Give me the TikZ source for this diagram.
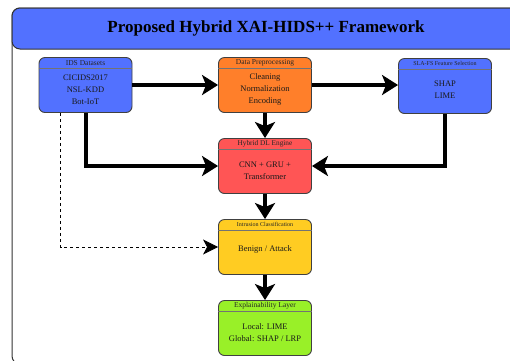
\documentclass[tikz,border=0pt]{standalone}
\usepackage{fontspec}
\setmainfont{Liberation Serif}
\usetikzlibrary{arrows.meta,calc}
\definecolor{cblue}{HTML}{5271FF}
\definecolor{corange}{HTML}{FF7F2A}
\definecolor{cred}{HTML}{FF5555}
\definecolor{cyellow}{HTML}{FFCC22}
\definecolor{cgreen}{HTML}{99F028}
\tikzset{
  box/.style={draw=black!75, line width=0.9pt, rounded corners=6pt, minimum width=93pt, minimum height=55pt, inner sep=0pt},
  hdr/.style={font=\fontsize{7.5}{8}\selectfont, inner sep=0pt, text=black!85},
  hdrsmall/.style={hdr, font=\fontsize{6}{7}\selectfont},
  body/.style={font=\fontsize{8.5}{12}\selectfont, align=center, inner sep=0pt, text=black!90},
  hline/.style={draw=black!55, line width=0.5pt},
  flow/.style={line width=4pt, -{Stealth[length=16pt,width=20pt,inset=4pt]}},
  dflow/.style={dashed, line width=0.8pt, -{Stealth[length=15pt,width=15pt,inset=4pt]}},
}
\begin{document}
\begin{tikzpicture}[x=1pt,y=-1pt]
\useasboundingbox (0,0) rectangle (510,360);
\clip (0,0) rectangle (510,360);
% outer frame and title bar
\draw[black!80, line width=1pt, rounded corners=8pt] (12,8) rectangle (540,364);
\draw[fill=cblue, draw=black!80, line width=1pt, rounded corners=8pt] (12,8) rectangle (540,49);
\node[font=\fontsize{17}{20}\selectfont\bfseries, text=black] (title) at (266,28) {Proposed Hybrid XAI-HIDS++ Framework};
% boxes
\node[box, fill=cblue]   (ids) at (85.5,85) {};
\node[box, fill=corange] (pre) at (265,85) {};
\node[box, fill=cblue]   (sla) at (445,86) {};
\node[box, fill=cred]    (dl)  at (265,166) {};
\node[box, fill=cyellow] (cls) at (265,247) {};
\node[box, fill=cgreen]  (xai) at (265,328) {};
\foreach \n in {ids,pre,sla,dl,cls,xai}
  \draw[hline] ([yshift=-11pt]\n.north west) -- ([yshift=-11pt]\n.north east);
% headers
\node[hdr] (idsh) at ([yshift=-5.8pt]ids.north) {IDS Datasets};
\node[hdr] (preh) at ([yshift=-5.8pt]pre.north) {Data Preprocessing};
\node[hdrsmall] (slah) at ([yshift=-5.8pt]sla.north) {SLA-FS Feature Selection};
\node[hdr, font=\fontsize{7.3}{8}\selectfont] (dlh) at ([yshift=-5.8pt]dl.north) {Hybrid DL Engine};
\node[hdrsmall] (clsh) at ([yshift=-5.8pt]cls.north) {Intrusion Classification};
\node[hdr] (xaih) at ([yshift=-5.8pt]xai.north) {Explainability Layer};
% bodies
\node[body] (idsb) at ([yshift=-4.5pt]ids.center) {CICIDS2017\\NSL-KDD\\Bot-IoT};
\node[body] (preb) at ([yshift=-4.5pt]pre.center) {Cleaning\\Normalization\\Encoding};
\node[body] (slab) at ([yshift=-3.5pt]sla.center) {SHAP\\LIME};
\node[body] (dlb)  at ([yshift=-5pt]dl.center) {CNN + GRU +\\Transformer};
\node[body] (clsb) at ([yshift=-2.5pt]cls.center) {Benign / Attack};
\node[body] (xaib) at ([yshift=-4.5pt]xai.center) {Local: LIME\\Global: SHAP / LRP};
% connectors
\draw[flow] (ids) -- (pre);
\draw[flow] (pre.east) -- (pre.east -| sla.west);
\draw[flow] (pre) -- (dl);
\draw[flow] (ids.south) |- (dl.west);
\draw[flow] (sla.south) |- (dl.east);
\draw[flow] (dl) -- (cls);
\draw[flow] (cls) -- (xai);
\draw[dflow] ([xshift=-25pt]ids.south) |- (cls.west);
\end{tikzpicture}
\end{document}
